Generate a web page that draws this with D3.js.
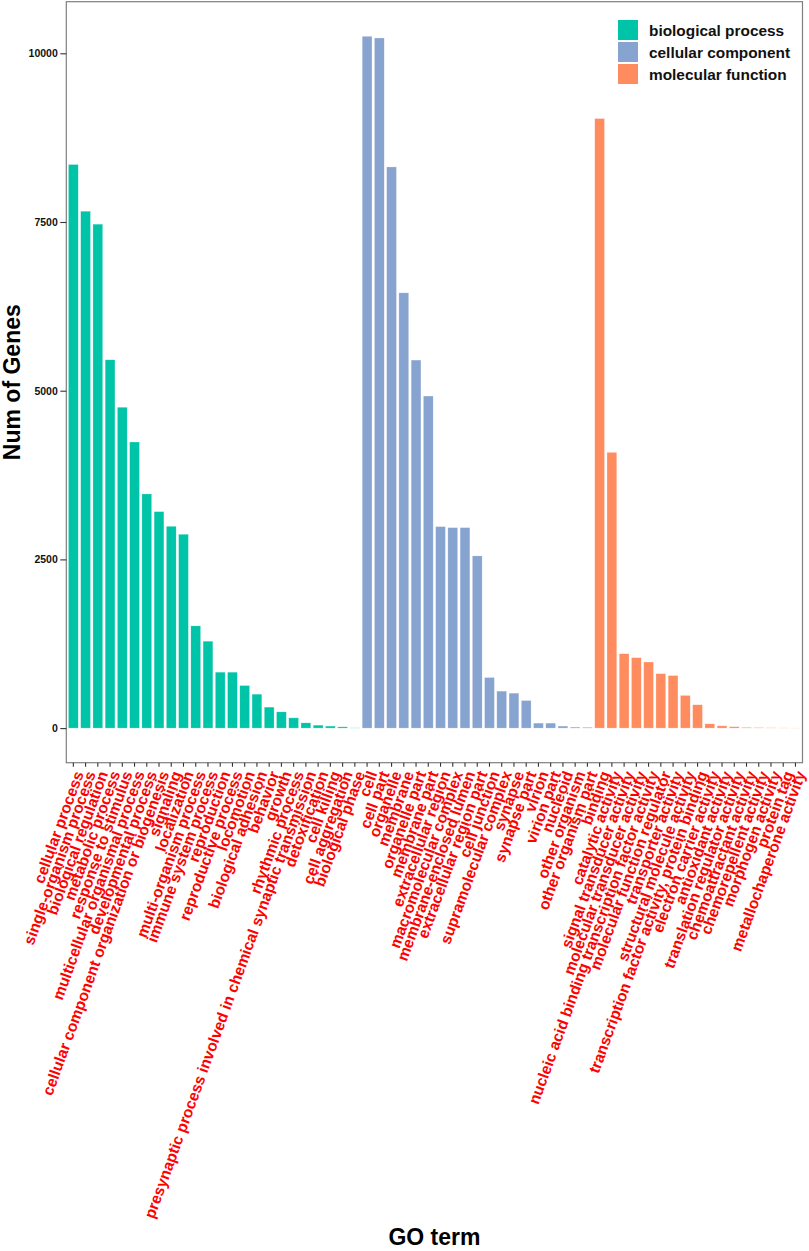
<!DOCTYPE html>
<html lang="en">
<head>
    <meta charset="UTF-8">
    <title>GO term</title>
    <style>
        body { margin: 0; background: #fff; }
        text { font-family: "Liberation Sans", Arial, sans-serif; font-weight: bold; }
    </style>
</head>
<body>
<svg></svg>
<script src="https://cdn.jsdelivr.net/npm/d3@7/dist/d3.min.js"></script>
<script>
    // GO categories
    var bpTerms = ["cellular process", "single-organism process", "biological regulation", "metabolic process",
        "response to stimulus", "multicellular organismal process", "developmental process",
        "cellular component organization or biogenesis", "signaling", "localization", "multi-organism process",
        "immune system process", "reproduction", "reproductive process", "locomotion", "biological adhesion",
        "behavior", "growth", "rhythmic process", "presynaptic process involved in chemical synaptic transmission",
        "detoxification", "cell killing", "cell aggregation", "biological phase"];
    var bpGenes = [8352, 7660, 7468, 5458, 4755, 4240, 3470, 3208, 2991, 2873, 1515, 1288,
        829, 829, 631, 503, 311, 241, 152, 78, 44, 30, 19, 4];

    var ccTerms = ["cell", "cell part", "organelle", "membrane", "organelle part", "membrane part",
        "extracellular region", "macromolecular complex", "membrane-enclosed lumen", "extracellular region part",
        "cell junction", "supramolecular complex", "synapse", "synapse part", "virion", "virion part",
        "nucleoid", "other organism", "other organism part"];
    var ccGenes = [10252, 10227, 8316, 6450, 5454, 4921, 2986, 2971, 2971, 2552, 750, 548, 518, 409,
        74, 74, 30, 15, 12];

    var mfTerms = ["binding", "catalytic activity", "signal transducer activity", "molecular transducer activity",
        "nucleic acid binding transcription factor activity", "molecular function regulator",
        "transporter activity", "structural molecule activity", "transcription factor activity, protein binding",
        "electron carrier activity", "antioxidant activity", "translation regulator activity",
        "chemoattractant activity", "chemorepellent activity", "morphogen activity", "protein tag",
        "metallochaperone activity"];
    var mfGenes = [9033, 4087, 1102, 1044, 980, 807, 779, 484, 346, 64, 34, 21, 11, 8, 5, 3, 2];

    var yTicks = [0, 2500, 5000, 7500, 10000];

    var groups = ["biological process", "cellular component", "molecular function"];
    var colors = ["#00C4A7", "#87A3CF", "#FF8C5F"];

    var width = 809;
    var height = 1251;
    var panel = {left: 66.3, right: 802.5, top: 1.7, bottom: 762.7};

    var data = [];
    [[bpTerms, bpGenes], [ccTerms, ccGenes], [mfTerms, mfGenes]].forEach(function (g, k) {
        g[0].forEach(function (t, i) {
            data.push({term: t, genes: g[1][i], group: groups[k]});
        });
    });

    var maxV = d3.max(data, function (d) { return d.genes; });

    var xScale = d3.scaleBand()
        .domain(data.map(function (d) { return d.term; }))
        .range([panel.left, panel.right])
        .paddingInner(0.2)
        .paddingOuter(0.175);
    var yScale = d3.scaleLinear()
        .domain([-0.05 * maxV, 1.05 * maxV])
        .range([panel.bottom, panel.top]);
    var color = d3.scaleOrdinal().domain(groups).range(colors);

    var svg = d3.select("svg")
        .attr("width", width)
        .attr("height", height);

    // bars
    svg.append("g").selectAll("rect")
        .data(data)
        .enter().append("rect")
        .attr("x", function (d) { return xScale(d.term); })
        .attr("y", function (d) { return yScale(d.genes); })
        .attr("width", xScale.bandwidth())
        .attr("height", function (d) { return yScale(0) - yScale(d.genes); })
        .attr("fill", function (d) { return color(d.group); })
        .attr("stroke", "#fff")
        .attr("stroke-opacity", 0.5)
        .attr("stroke-width", 0.5);

    // panel border
    svg.append("rect")
        .attr("x", panel.left)
        .attr("y", panel.top)
        .attr("width", panel.right - panel.left)
        .attr("height", panel.bottom - panel.top)
        .attr("fill", "none")
        .attr("stroke", "#7f7f7f")
        .attr("stroke-width", 1.2);

    // y axis
    var yAxis = d3.axisLeft(yScale)
        .tickValues(yTicks)
        .tickFormat(d3.format("d"))
        .tickSize(6)
        .tickPadding(2.5);
    var gy = svg.append("g")
        .attr("transform", "translate(" + panel.left + ",0)")
        .call(yAxis);
    gy.select(".domain").remove();
    gy.selectAll("line").attr("stroke", "#333").attr("stroke-width", 1.1);
    gy.selectAll("text").attr("fill", "#111").style("font-size", "10.5px");

    // x axis
    var xAxis = d3.axisBottom(xScale).tickSize(4).tickPadding(0);
    var gx = svg.append("g")
        .attr("transform", "translate(0," + panel.bottom + ")")
        .call(xAxis);
    gx.select(".domain").remove();
    gx.selectAll("line").attr("stroke", "#333").attr("stroke-width", 1.1);
    gx.selectAll("text")
        .attr("fill", "#ff0000")
        .style("font-size", "15.5px")
        .style("text-anchor", "end")
        .attr("y", 0)
        .attr("dy", "0.72em")
        .attr("transform", "translate(0,7) rotate(-70)");

    // legend
    var legend = svg.append("g").selectAll("g")
        .data(groups)
        .enter().append("g")
        .attr("transform", function (d, i) { return "translate(618," + (20 + i * 22) + ")"; });
    legend.append("rect")
        .attr("width", 20)
        .attr("height", 20)
        .attr("fill", function (d) { return color(d); });
    legend.append("text")
        .attr("x", 31)
        .attr("y", 10)
        .attr("dy", "0.36em")
        .style("font-size", "15.4px")
        .attr("fill", "#111")
        .text(function (d) { return d; });

    // axis titles
    svg.append("text")
        .attr("x", (panel.left + panel.right) / 2)
        .attr("y", 1245)
        .style("text-anchor", "middle")
        .style("font-size", "23px")
        .text("GO term");

    svg.append("text")
        .attr("transform", "translate(20," + (panel.top + panel.bottom) / 2 + ") rotate(-90)")
        .style("text-anchor", "middle")
        .style("font-size", "23px")
        .text("Num of Genes");
</script>
</body>
</html>
